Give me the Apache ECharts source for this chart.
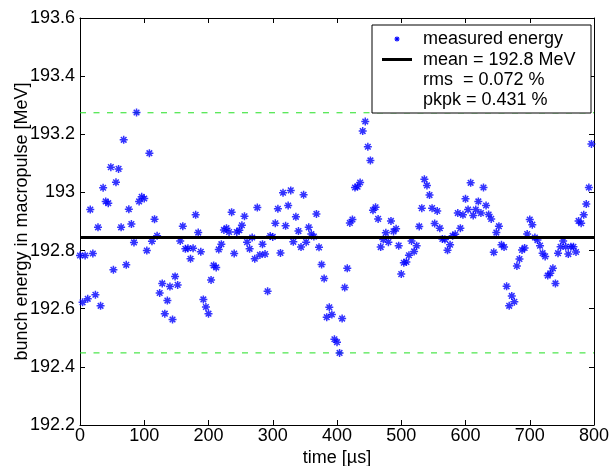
<!DOCTYPE html>
<html>
<head>
<meta charset="utf-8">
<script src="https://cdn.jsdelivr.net/npm/echarts@6/dist/echarts.min.js"></script>
<style>
html,body{margin:0;padding:0;background:#fff;}
#chart{width:610px;height:466px;}
</style>
</head>
<body>
<div id="chart"></div>
<script>
// time axis (µs)
var timeUs = [0,4,8,12,16,20,24,28,32,36,40,44,48,52,56,60,64,68,72,76,80,84,88,92,96,100,104,108,112,116,120,124,128,132,136,140,144,148,152,156,160,164,168,172,176,180,184,188,192,196,200,204,208,212,216,220,224,228,232,236,240,244,248,252,256,260,264,268,272,276,280,284,288,292,296,300,304,308,312,316,320,324,328,332,336,340,344,348,352,356,360,364,368,372,376,380,384,388,392,396,400,404,408,412,416,420,424,428,432,436,440,444,448,452,456,460,464,468,472,476,480,484,488,492,496,500,504,508,512,516,520,524,528,532,536,540,544,548,552,556,560,564,568,572,576,580,584,588,592,596,600,604,608,612,616,620,624,628,632,636,640,644,648,652,656,660,664,668,672,676,680,684,688,692,696,700,704,708,712,716,720,724,728,732,736,740,744,748,752,756,760,764,768,772,776,780,784,788,792,796];
// measured bunch energy (MeV)
var energyMeV = [192.783,192.622,192.783,192.634,192.941,192.790,192.648,192.880,192.610,193.016,
192.969,192.963,193.087,192.734,193.035,193.081,192.880,193.181,192.751,192.942,
192.891,192.828,193.275,192.969,192.985,192.979,192.800,193.135,192.832,192.908,
192.851,192.654,192.687,192.583,192.628,192.676,192.563,192.711,192.682,192.833,
192.884,192.806,192.808,192.772,192.808,192.923,192.862,192.796,192.632,192.606,
192.583,192.699,192.749,192.742,192.804,192.822,192.871,192.877,192.864,192.932,
192.790,192.864,192.870,192.887,192.918,192.829,192.806,192.845,192.772,192.948,
192.785,192.822,192.788,192.660,192.850,192.847,192.894,192.944,192.792,192.999,
192.885,192.955,193.007,192.830,192.916,192.867,192.812,192.992,192.829,192.880,
192.857,192.848,192.926,192.811,192.752,192.704,192.571,192.605,192.580,192.495,
192.485,192.448,192.566,192.673,192.739,192.895,192.907,193.017,193.020,193.034,
193.211,193.244,193.157,193.110,192.939,192.949,192.909,192.812,192.838,192.861,
192.829,192.902,192.866,192.875,192.817,192.719,192.758,192.761,192.784,192.833,
192.797,192.817,192.883,192.946,193.045,193.024,192.991,192.946,192.893,192.936,
192.877,192.840,192.838,192.801,192.820,192.851,192.856,192.929,192.877,192.923,
192.978,192.941,193.033,192.921,192.941,192.969,192.929,193.017,192.955,192.924,
192.909,192.794,192.862,192.884,192.820,192.812,192.677,192.610,192.644,192.624,
192.747,192.771,192.802,192.809,192.857,192.907,192.889,192.845,192.836,192.817,
192.791,192.780,192.714,192.722,192.739,192.687,192.791,192.813,192.833,192.813,
192.788,192.813,192.813,192.795,192.902,192.894,192.923,192.960,193.017,193.167];
var meanValue = 192.845;
var peakHigh = 193.274;
var peakLow = 192.448;
var timeRange = [0, 800];
var legendTexts = ['measured energy', 'mean = 192.8 MeV', 'rms  = 0.072 %', 'pkpk = 0.431 %'];
var xTickLabels = ['0','100','200','300','400','500','600','700','800'];
var yTickLabels = ['192.2','192.4','192.6','192.8','193','193.2','193.4','193.6'];

var FONT = '"Liberation Sans", Arial, sans-serif';
var STAR = 'path://M0 5L10 5M5 0L5 10M1.5 1.5L8.5 8.5M8.5 1.5L1.5 8.5';

var scatterData = timeUs.map(function(t, i){ return [t, energyMeV[i]]; });

var chart = echarts.init(document.getElementById('chart'), null, {renderer: 'canvas'});

var axisCommon = {
  type: 'value',
  axisLine: {show: true, onZero: false, lineStyle: {color: '#000', width: 1}},
  axisTick: {show: true, inside: true, length: 5, lineStyle: {color: '#000', width: 1}},
  splitLine: {show: false}
};

// legend star glyph (small asterisk made of 4 strokes)
function starLines(cx, cy, r) {
  var d = r * 0.7;
  var segs = [[-r,0,r,0],[0,-r,0,r],[-d,-d,d,d],[d,-d,-d,d]];
  return segs.map(function(s){
    return {type: 'line', z: 101, shape: {x1: cx+s[0], y1: cy+s[1], x2: cx+s[2], y2: cy+s[3]},
            style: {stroke: '#0000ff', lineWidth: 1.2}};
  });
}

var graphics = [
  {type: 'rect', z: 100, shape: {x: 372, y: 25, width: 219, height: 88},
   style: {fill: '#fff', stroke: '#000', lineWidth: 1}},
  {type: 'line', z: 101, shape: {x1: 382, y1: 59.5, x2: 412, y2: 59.5},
   style: {stroke: '#000', lineWidth: 3}}
].concat(starLines(397, 39, 2.5)).concat([
  {type: 'text', z: 101, x: 423, y: 39.5, style: {text: legendTexts[0], font: '18px ' + FONT, fill: '#000', verticalAlign: 'middle'}},
  {type: 'text', z: 101, x: 423, y: 60.5, style: {text: legendTexts[1], font: '18px ' + FONT, fill: '#000', verticalAlign: 'middle'}},
  {type: 'text', z: 101, x: 423, y: 80.5, style: {text: legendTexts[2], font: '18px ' + FONT, fill: '#000', verticalAlign: 'middle'}},
  {type: 'text', z: 101, x: 423, y: 100.5, style: {text: legendTexts[3], font: '18px ' + FONT, fill: '#000', verticalAlign: 'middle'}}
]);

chart.setOption({
  animation: false,
  backgroundColor: '#fff',
  grid: {left: 80, right: 16, top: 18, bottom: 41, containLabel: false, outerBoundsMode: 'none'},
  xAxis: [
    Object.assign({}, axisCommon, {
      position: 'bottom', min: timeRange[0], max: timeRange[1], interval: 100,
      axisLabel: {show: true, margin: 2, color: '#000', fontSize: 18, fontFamily: FONT,
        formatter: function(v){ var k = Math.round(v/100); return xTickLabels[k] || ''; }},
      name: 'time [µs]', nameLocation: 'middle', nameGap: 24, nameMoveOverlap: false,
      nameTextStyle: {color: '#000', fontSize: 18, fontFamily: FONT}
    }),
    Object.assign({}, axisCommon, {
      position: 'top', min: timeRange[0], max: timeRange[1], interval: 100,
      axisLabel: {show: false}
    })
  ],
  yAxis: [
    Object.assign({}, axisCommon, {
      position: 'left', min: 192.2, max: 193.6, interval: 0.2,
      axisLabel: {show: true, margin: 5, color: '#000', fontSize: 18, fontFamily: FONT,
        formatter: function(v){ var k = Math.round((v-192.2)/0.2); return yTickLabels[k] || ''; }},
      name: 'bunch energy in macropulse [MeV]', nameLocation: 'middle', nameGap: 49, nameMoveOverlap: false,
      nameTextStyle: {color: '#000', fontSize: 18, fontFamily: FONT}
    }),
    Object.assign({}, axisCommon, {
      position: 'right', min: 192.2, max: 193.6, interval: 0.2,
      axisLabel: {show: false}
    })
  ],
  series: [
    {
      type: 'line', name: 'pkHigh', xAxisIndex: 0, yAxisIndex: 0,
      data: [[timeRange[0], peakHigh], [timeRange[1], peakHigh]],
      symbol: 'none', silent: true, z: 1,
      lineStyle: {color: '#22e022', width: 1, type: [6, 7.5]}
    },
    {
      type: 'line', name: 'pkLow', xAxisIndex: 0, yAxisIndex: 0,
      data: [[timeRange[0], peakLow], [timeRange[1], peakLow]],
      symbol: 'none', silent: true, z: 1,
      lineStyle: {color: '#22e022', width: 1, type: [6, 7.5]}
    },
    {
      type: 'scatter', name: 'measured energy', xAxisIndex: 0, yAxisIndex: 0,
      data: scatterData, symbol: STAR, symbolSize: 8, z: 3,
      itemStyle: {color: '#0000ff', borderColor: '#0000ff', borderWidth: 1.5},
      emphasis: {disabled: true}
    },
    {
      type: 'line', name: 'mean', xAxisIndex: 0, yAxisIndex: 0,
      data: [[timeRange[0], meanValue], [timeRange[1], meanValue]],
      symbol: 'none', silent: true, z: 4,
      lineStyle: {color: '#000', width: 3}
    }
  ],
  graphic: graphics
});
</script>
</body>
</html>
